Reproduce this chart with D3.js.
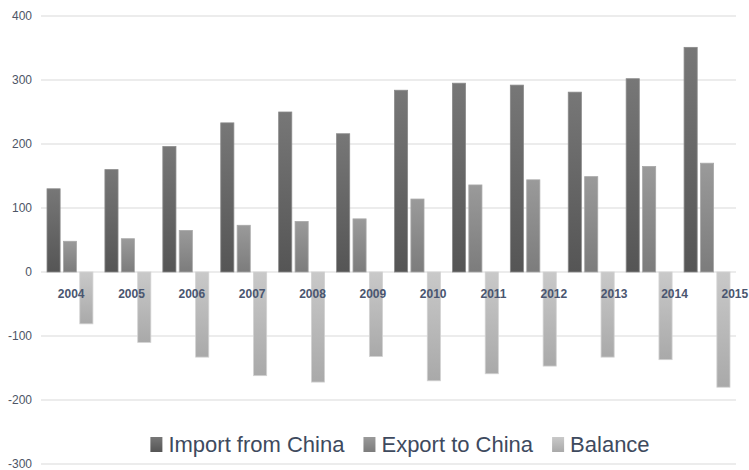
<!DOCTYPE html>
<html>
<head>
<meta charset="utf-8">
<script src="https://cdn.jsdelivr.net/npm/d3@7"></script>
<style>
body { margin:0; background:#ffffff; }
svg { display:block; font-family:"Liberation Sans", Arial, sans-serif; }
</style>
</head>
<body>
<svg></svg>
<script>
// values (billion)
var years = ["2004","2005","2006","2007","2008","2009","2010","2011","2012","2013","2014","2015"]
var importChina = [130,160,196,233,250,216,284,295,292,281,302,351]
var exportChina = [48,52,65,73,79,83,114,136,144,149,165,170]
var balance = [-81,-110,-133,-162,-172,-132,-170,-159,-147,-133,-137,-180]
var seriesNames = ["Import from China","Export to China","Balance"]
var yTicks = [400,300,200,100,0,-100,-200,-300]

var screen = {width:749, height:470}
var plot = {left:41, right:736, top:16, bottom:464}

var svg = d3.select("svg")
    .attr("width",screen.width)
    .attr("height",screen.height)

// gradients for the bars
var colors = [
    {id:"gImp", top:"#777777", bottom:"#555555", edge:"#8a8a8a"},
    {id:"gExp", top:"#9a9a9a", bottom:"#7c7c7c", edge:"#a8a8a8"},
    {id:"gBal", top:"#c9c9c9", bottom:"#a9a9a9", edge:"#d2d2d2"}
]
var defs = svg.append("defs")
colors.forEach(function(c)
{
    var g = defs.append("linearGradient").attr("id",c.id)
        .attr("x1",0).attr("y1",0).attr("x2",0).attr("y2",1)
    g.append("stop").attr("offset","0%").attr("stop-color",c.top)
    g.append("stop").attr("offset","100%").attr("stop-color",c.bottom)
})

var yScale = d3.scaleLinear()
    .domain([-300,400])
    .range([plot.bottom,plot.top])

var xScale = d3.scaleBand()
    .domain(years)
    .range([plot.left,plot.right])

var inner = d3.scaleBand()
    .domain(seriesNames)
    .range([6, xScale.bandwidth()-6])
    .paddingInner(0.2)

// year labels sit on a slightly wider band than the bars
var labelScale = d3.scaleBand()
    .domain(years)
    .range([plot.left, 765])

// grid
svg.append("g")
    .selectAll("line")
    .data(yTicks)
    .enter()
    .append("line")
    .attr("x1",plot.left)
    .attr("x2",plot.right)
    .attr("y1",function(d){ return yScale(d) })
    .attr("y2",function(d){ return yScale(d) })
    .attr("stroke","#e6e6e6")
    .attr("stroke-width",1.5)

// y axis
var yAxis = d3.axisLeft(yScale)
    .tickValues(yTicks)
    .tickFormat(function(d){ return String(d) })
    .tickSize(0)
    .tickPadding(0)
svg.append("g")
    .attr("id","yAxis")
    .attr("transform","translate(32,0)")
    .call(yAxis)
    .call(function(g){ g.select(".domain").remove() })
    .selectAll("text")
    .attr("font-size","12px")
    .attr("font-family","Liberation Sans, Arial, sans-serif")
    .attr("fill","#4d5566")

// bars
var rows = years.map(function(y,i)
{
    return {year:y, values:[importChina[i], exportChina[i], balance[i]]}
})

var groups = svg.append("g")
    .selectAll("g")
    .data(rows)
    .enter()
    .append("g")
    .attr("transform",function(d){ return "translate("+xScale(d.year)+",0)" })

groups.selectAll("rect")
    .data(function(d){ return d.values.map(function(v,k){ return {name:seriesNames[k], k:k, v:v} }) })
    .enter()
    .append("rect")
    .attr("x",function(d){ return inner(d.name) })
    .attr("width",inner.bandwidth())
    .attr("y",function(d){ return yScale(Math.max(0,d.v)) })
    .attr("height",function(d){ return Math.abs(yScale(d.v)-yScale(0)) })
    .attr("fill",function(d){ return "url(#"+colors[d.k].id+")" })
    .attr("stroke",function(d){ return colors[d.k].edge })
    .attr("stroke-width",0.8)

// x labels
var xAxis = d3.axisBottom(labelScale).tickSize(0).tickPadding(17)
svg.append("g")
    .attr("id","xAxis")
    .attr("transform","translate(0,"+yScale(0)+")")
    .call(xAxis)
    .call(function(g){ g.select(".domain").remove() })
    .selectAll("text")
    .attr("font-size","12px")
    .attr("font-weight","bold")
    .attr("font-family","Liberation Sans, Arial, sans-serif")
    .attr("fill","#4a5670")

// legend
var legend = svg.append("g").attr("id","legend")
var items = legend.selectAll("g")
    .data(seriesNames)
    .enter()
    .append("g")
items.append("rect")
    .attr("width",12)
    .attr("height",15)
    .attr("y",437)
    .attr("fill",function(d,i){ return "url(#"+colors[i].id+")" })
items.append("text")
    .attr("x",18)
    .attr("y",452)
    .attr("font-size","22px")
    .attr("fill","#3e4a5e")
    .text(function(d){ return d })

var pos = 0
items.each(function()
{
    var w = 18 + d3.select(this).select("text").node().getComputedTextLength()
    d3.select(this).attr("transform","translate("+pos+",0)")
    pos += w + 19
})
var total = pos - 19
legend.attr("transform","translate("+(400 - total/2)+",0)")
</script>
</body>
</html>
